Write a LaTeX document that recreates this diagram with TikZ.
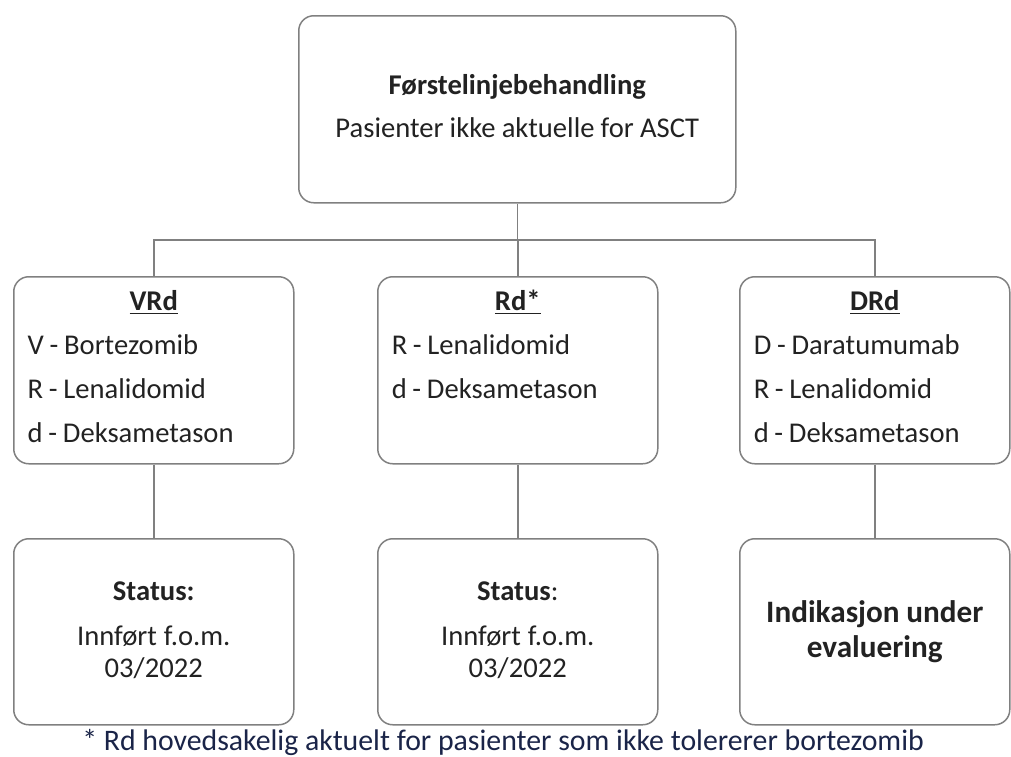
\documentclass[tikz,border=0pt]{standalone}
\usepackage{fontspec}
\setmainfont{Carlito}
\definecolor{boxgray}{RGB}{128,128,128}
\definecolor{notenavy}{RGB}{26,36,72}
\definecolor{txtgray}{RGB}{34,34,34}
\newcommand{\tightspace}{\spaceskip=0.2em plus 0.05em\relax}
\tikzset{
    box/.style={
        draw=boxgray, line width=0.75pt, rounded corners=7.5pt,
        anchor=north west, inner ysep=0pt, text=txtgray,
        execute at begin node=\tightspace
    },
    drugbox/.style={
        box, inner xsep=7pt, align=left, text height=17pt, text depth=76.5pt,
        font=\fontsize{14.3}{22}\selectfont
    },
    statusbox/.style={
        box, inner xsep=5pt, align=center, text width=130pt, text height=31pt, text depth=62pt,
        font=\fontsize{14.3}{16}\selectfont
    },
    conn/.style={draw=boxgray, line width=0.75pt},
}
\newcommand{\drugtitle}[1]{\makebox[\linewidth]{\underline{\textbf{#1}}}}

\begin{document}
\begin{tikzpicture}[x=0.5pt, y=-0.5pt]
    \useasboundingbox (0,0) rectangle (1011,756);

    % top
    \node[box, inner xsep=9.25pt, text width=200pt, align=center, text height=39.25pt, text depth=54.25pt,
        font=\fontsize{14.3}{21.5}\selectfont] (first) at (298,15)
        {\textbf{Førstelinjebehandling}\\ Pasienter ikke aktuelle for ASCT};

    % regimes
    \node[drugbox, text width=126pt] (vrd) at (13,276)
        {\drugtitle{VRd}\\ V - Bortezomib\\ R - Lenalidomid\\ d - Deksametason};
    \node[drugbox, text width=126pt] (rd) at (377,276)
        {\drugtitle{Rd*}\\ R - Lenalidomid\\ d - Deksametason};
    \node[drugbox, text width=121pt] (drd) at (739,276)
        {\drugtitle{DRd}\\ D - Daratumumab\\ R - Lenalidomid\\ d - Deksametason};

    % status
    \node[statusbox] (vrdstatus) at (13,538)
        {\textbf{Status:}\\[6.5pt] Innført f.o.m.\\ 03/2022};
    \node[statusbox] (rdstatus) at (377,538)
        {\textbf{Status}:\\[6.5pt] Innført f.o.m.\\ 03/2022};
    \node[box, inner xsep=5pt, align=center, text width=125pt, text height=42pt, text depth=51pt,
        font=\fontsize{15.6}{17.5}\selectfont\bfseries] (drdstatus) at (739,538)
        {Indikasjon under\\ evaluering};

    \node[anchor=base, inner sep=0pt, text=notenavy, font=\fontsize{14.9}{17}\selectfont] (note) at (503,750)
        {* Rd hovedsakelig aktuelt for pasienter som ikke tolererer bortezomib};

    % lines
    \coordinate (bus) at (first.south |- 0,240);
    \draw[conn] (first.south) -- (bus);
    \draw[conn] (vrd.north) |- (bus) -| (drd.north);
    \draw[conn] (rd.north) -- (rd.north |- bus);
    \draw[conn] (vrd.south) -- (vrdstatus.north);
    \draw[conn] (rd.south) -- (rdstatus.north);
    \draw[conn] (drd.south) -- (drdstatus.north);
\end{tikzpicture}
\end{document}
